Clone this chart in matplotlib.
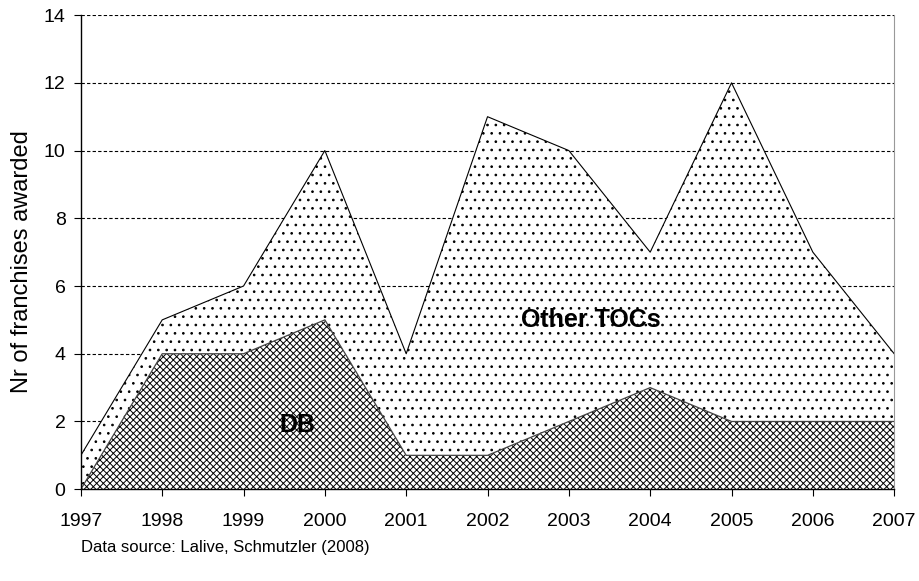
import numpy as np
import matplotlib.pyplot as plt

plt.rcParams['font.family'] = ['Liberation Sans', 'DejaVu Sans']
plt.rcParams['hatch.linewidth'] = 0.7

# Jahre und Werte
years = [1997, 1998, 1999, 2000, 2001, 2002, 2003, 2004, 2005, 2006, 2007]
db = [0, 4, 4, 5, 1, 1, 2, 3, 2, 2, 2]
total = [1, 5, 6, 10, 4, 11, 10, 7, 12, 7, 4]
others = [t - d for t, d in zip(total, db)]

fig = plt.figure(figsize=(9.19, 5.81), dpi=100)
ax = fig.add_axes([0.088, 0.158, 0.885, 0.816])

db_top = np.array(db)
tot_top = db_top + np.array(others)

ax.fill_between(years, 0, db_top, facecolor='white', edgecolor='black',
                hatch='xxxxx', linewidth=0, zorder=2)
ax.fill_between(years, db_top, tot_top, facecolor='white', edgecolor='black',
                hatch='..', linewidth=0, zorder=2)
ax.plot(years, db_top, color='#444444', lw=0.9, zorder=3)
ax.plot(years, tot_top, color='black', lw=0.8, zorder=3)

ax.set_xlim(1997, 2007)
ax.set_ylim(0, 14)
ax.set_xticks(years)
ax.set_yticks(range(0, 15, 2))
ax.tick_params(labelsize=14, length=5, color='black')
ax.tick_params(axis='x', pad=12)
ax.tick_params(axis='y', pad=6)
ax.set_axisbelow(True)
ax.grid(axis='y', color='black', linestyle=(0, (3, 2)), linewidth=0.8)
ax.spines['right'].set_color('#999999')
ax.spines['top'].set_visible(False)
ax.spines['left'].set_linewidth(1.0)
ax.spines['bottom'].set_linewidth(1.0)
ax.spines['left'].set_zorder(4)
ax.spines['bottom'].set_zorder(4)

ax.set_ylabel('Nr of franchises awarded', fontsize=17)
ax.yaxis.set_label_coords(-0.059, 0.481)
ax.text(2003.27, 5, 'Other TOCs', fontsize=18, fontweight='bold',
        ha='center', va='center', zorder=5)
ax.text(1999.66, 1.9, 'DB', fontsize=18, fontweight='bold',
        ha='center', va='center', zorder=5)

fig.text(0.088, 0.05, 'Data source: Lalive, Schmutzler (2008)', fontsize=12)

fig.savefig('out.png', dpi=100)
